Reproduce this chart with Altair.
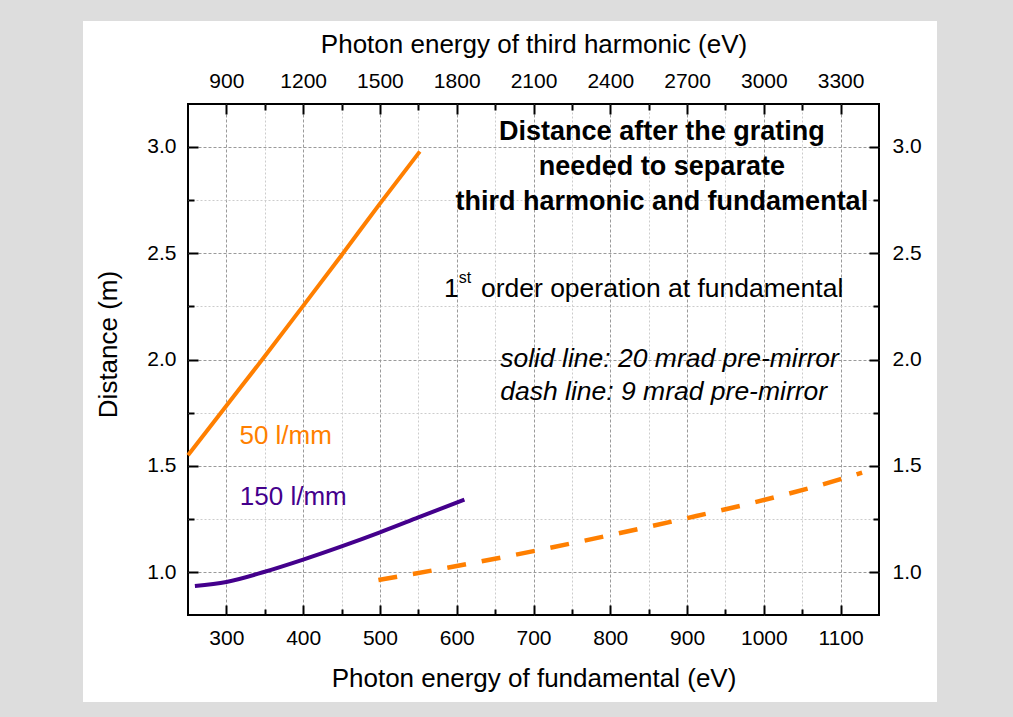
import altair as alt
import pandas as pd

# ---------------- data ----------------
# 50 l/mm grating, 20 mrad pre-mirror (solid orange)
energy_50_20mrad = [250, 300, 350, 400, 450, 500, 552]
dist_50_20mrad = [1.55, 1.783, 2.015, 2.252, 2.49, 2.732, 2.977]
# 150 l/mm grating, 20 mrad pre-mirror (solid purple)
energy_150_20mrad = [259, 300, 350, 400, 450, 500, 550, 610]
dist_150_20mrad = [0.936, 0.955, 1.003, 1.06, 1.122, 1.188, 1.258, 1.342]
# 50 l/mm grating, 9 mrad pre-mirror (dashed orange)
energy_50_9mrad = [498, 600, 700, 800, 900, 1000, 1100, 1128]
dist_50_9mrad = [0.964, 1.03, 1.10, 1.175, 1.255, 1.34, 1.438, 1.469]

# axes
x_domain = [250, 1150]
y_domain = [0.8, 3.2]
x_major = [300, 400, 500, 600, 700, 800, 900, 1000, 1100]
x_minor = [350, 450, 550, 650, 750, 850, 950, 1050]
y_major = [1.0, 1.5, 2.0, 2.5, 3.0]
y_minor = [1.25, 1.75, 2.25, 2.75]

# annotation texts
title_lines = ["Distance after the grating", "needed to separate",
               "third harmonic and fundamental"]
title_E = [867.2, 867.2, 867.2]
title_D = [3.032, 2.868, 2.704]

italic_lines = ["solid line: 20 mrad pre-mirror", "dash line: 9 mrad pre-mirror"]
italic_E = [656.6, 656.6]
italic_D = [1.966, 1.810]

order_texts = ["1", "order operation at fundamental"]
order_E = [583.3, 631.5]
order_D = [2.295, 2.295]
sup_text = ["st"]
sup_E = [602.8]
sup_D = [2.360]

series_labels = ["50 l/mm", "150 l/mm"]
series_label_E = [317.0, 317.5]
series_label_D = [1.605, 1.316]

ORANGE = "#ff7f00"
PURPLE = "#44008c"
series_label_colors = [ORANGE, PURPLE]

W, H = 691, 511
FONT = "Liberation Sans"
GRAY = "#dddddd"


def X(axis):
    return alt.X("E:Q", scale=alt.Scale(domain=x_domain, nice=False, zero=False), axis=axis)


def Y(axis):
    return alt.Y("D:Q", scale=alt.Scale(domain=y_domain, nice=False, zero=False), axis=axis)


# ---------------- axes ----------------
ax_bottom = alt.Axis(orient="bottom", values=x_major, format="d", ticks=False,
                     labelPadding=29, labelBaseline="alphabetic", labelFlush=False,
                     labelOverlap=False, title="Photon energy of fundamental (eV)",
                     titleY=71.5, titleBaseline="alphabetic")
ax_top = alt.Axis(orient="top", values=x_major, labelExpr="format(datum.value * 3, 'd')",
                  ticks=False, labelPadding=17, labelBaseline="alphabetic",
                  labelFlush=False, labelOverlap=False,
                  title="Photon energy of third harmonic (eV)", titleY=-51.3,
                  titleBaseline="alphabetic")
ax_left = alt.Axis(orient="left", values=y_major, format=".1f", ticks=False,
                   labelPadding=12, labelFlush=False, labelOverlap=False,
                   title="Distance (m)", titleX=-72, titleY=240, titleAngle=270,
                   titleAlign="center", titleBaseline="alphabetic")
ax_right = alt.Axis(orient="right", values=y_major, format=".1f", ticks=False,
                    labelPadding=13, labelFlush=False, labelOverlap=False, title=None)


def grid_axis(orient, vals, color, dash):
    return alt.Axis(orient=orient, values=vals, grid=True, gridColor=color, gridDash=dash,
                    gridWidth=1, ticks=False, labels=False, domain=False, title=None)


def tick_axis(orient, off, vals, size):
    # negative offset moves the axis across the plot so its ticks point inwards
    return alt.Axis(orient=orient, offset=off, values=vals, ticks=True, tickSize=size,
                    tickWidth=2, tickColor="black", labels=False, domain=False,
                    grid=False, title=None)


df50 = pd.DataFrame({"E": energy_50_20mrad, "D": dist_50_20mrad})
df150 = pd.DataFrame({"E": energy_150_20mrad, "D": dist_150_20mrad})
df9 = pd.DataFrame({"E": energy_50_9mrad, "D": dist_50_9mrad})

line50 = alt.Chart(df50).mark_line(color=ORANGE, strokeWidth=4, interpolate="monotone").encode(
    x=X(ax_bottom), y=Y(ax_left))
line150 = alt.Chart(df150).mark_line(color=PURPLE, strokeWidth=4, interpolate="monotone").encode(
    x=X(ax_top), y=Y(ax_right))
line9 = alt.Chart(df9).mark_line(color=ORANGE, strokeWidth=4.5, strokeDash=[19, 16],
                                 interpolate="monotone").encode(
    x=X(grid_axis("bottom", x_major, "#9a9a9a", [3, 2])),
    y=Y(grid_axis("left", y_major, "#9a9a9a", [3, 2])))

bold_txt = alt.Chart(pd.DataFrame({"E": title_E, "D": title_D, "t": title_lines})).mark_text(
    font=FONT, fontSize=27, fontWeight="bold", align="center", baseline="alphabetic",
    color="black").encode(
    x=X(grid_axis("bottom", x_minor, "#cccccc", [2, 2])),
    y=Y(grid_axis("left", y_minor, "#cccccc", [2, 2])),
    text="t:N")

# inward ticks: bottom edge (orient top moved down by H), left edge (orient right moved by W)
italic_txt = alt.Chart(pd.DataFrame({"E": italic_E, "D": italic_D, "t": italic_lines})).mark_text(
    font=FONT, fontSize=26.5, fontStyle="italic", align="left", baseline="alphabetic",
    color="black").encode(
    x=X(tick_axis("top", -H, x_major, 10)),
    y=Y(tick_axis("right", -W, y_major, 10)),
    text="t:N")

order_txt = alt.Chart(pd.DataFrame({"E": order_E, "D": order_D, "t": order_texts})).mark_text(
    font=FONT, fontSize=26.5, align="left", baseline="alphabetic", color="black").encode(
    x=X(tick_axis("top", -H, x_minor, 6)),
    y=Y(tick_axis("right", -W, y_minor, 6)),
    text="t:N")

# inward ticks: top edge (orient bottom moved up by H), right edge (orient left moved by W)
sup_txt = alt.Chart(pd.DataFrame({"E": sup_E, "D": sup_D, "t": sup_text})).mark_text(
    font=FONT, fontSize=16, align="left", baseline="alphabetic", color="black").encode(
    x=X(tick_axis("bottom", -H, x_major, 10)),
    y=Y(tick_axis("left", -W, y_major, 10)),
    text="t:N")

series_txt = alt.Chart(pd.DataFrame({"E": series_label_E, "D": series_label_D,
                                     "t": series_labels, "c": series_label_colors})).mark_text(
    font=FONT, fontSize=26, align="left", baseline="alphabetic").encode(
    x=X(tick_axis("bottom", -H, x_minor, 6)),
    y=Y(tick_axis("left", -W, y_minor, 6)),
    text="t:N", color=alt.Color("c:N", scale=None))

one = pd.DataFrame({"k": [0]})


def border(x0, x1, y0, y1):
    return alt.Chart(one).mark_rect(color=GRAY).encode(
        x=alt.value(x0), x2=alt.value(x1), y=alt.value(y0), y2=alt.value(y1))


borders = [
    border(-188, -105, -104, 613),
    border(749, 825, -104, 613),
    border(-188, 825, -104, -83),
    border(-188, 825, 598, 613),
]

chart = alt.layer(
    *borders, line9, line150, line50, bold_txt, italic_txt, order_txt, sup_txt, series_txt
).resolve_axis(x="independent", y="independent").properties(
    width=W, height=H,
    padding={"left": 188, "top": 104, "right": 134, "bottom": 102},
    autosize=alt.AutoSizeParams(type="none"),
).configure(background="white", font=FONT).configure_view(
    stroke="black", strokeWidth=2
).configure_axis(
    labelFont=FONT, titleFont=FONT, labelFontSize=21, titleFontSize=26,
    titleFontWeight="normal", labelColor="black", titleColor="black",
    domain=False, grid=False,
)

chart.save("out.html", embed_options={"renderer": "svg", "actions": False})
